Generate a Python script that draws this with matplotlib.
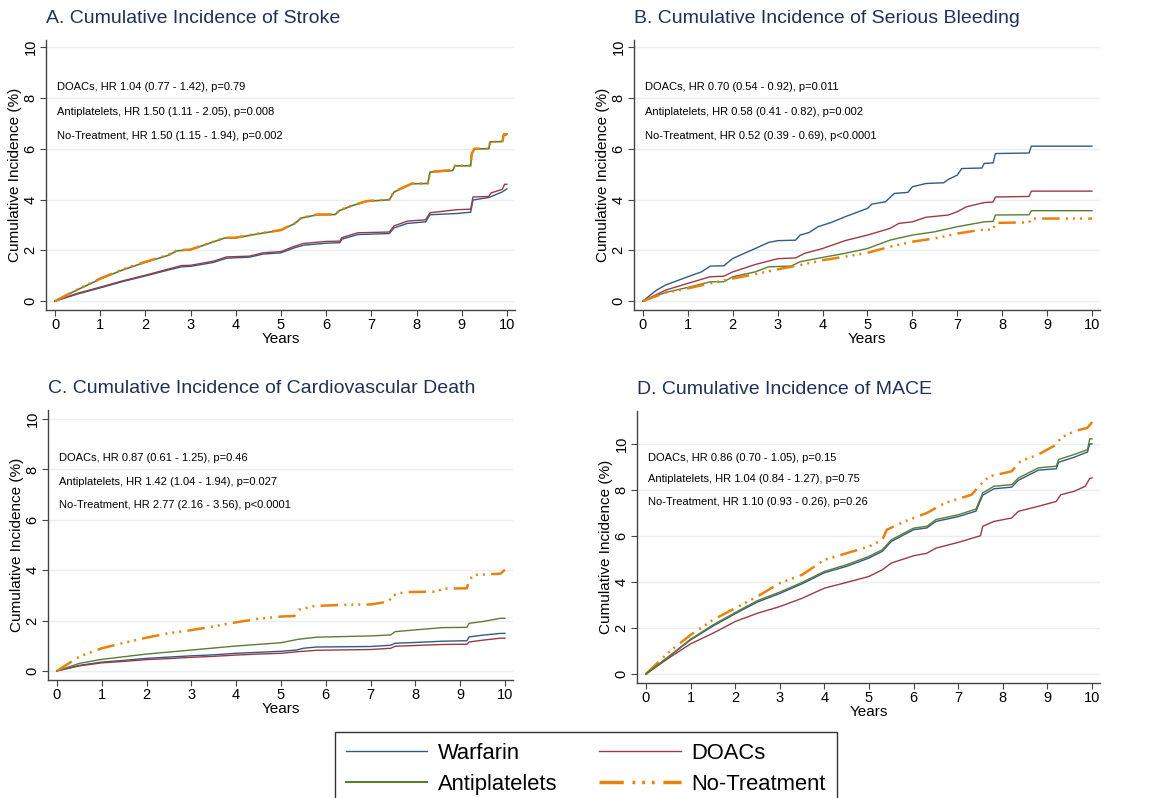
import matplotlib
matplotlib.use("Agg")
import matplotlib.pyplot as plt
from matplotlib.lines import Line2D

plt.rcParams['font.family'] = ['Liberation Sans', 'DejaVu Sans']

# colours (Stata s2color look)
c_warf = '#2f5b85'
c_doac = '#9b3a46'
c_anti = '#5a7d34'
c_none = '#e8820c'
c_title = '#1f3256'
c_grid = '#e6eff1'

# ---------------- A. Stroke ----------------
stroke_warf_t = [0, 0.5, 1, 1.5, 2, 2.5, 2.8, 3, 3.5, 3.8, 4.3, 4.6, 5, 5.3, 5.5, 6, 6.3, 6.35, 6.7, 7.4, 7.5, 7.8, 8.2, 8.3, 8.9, 9.2, 9.25, 9.6, 9.9, 10]
stroke_warf_y = [0, 0.28, 0.52, 0.77, 0.99, 1.22, 1.35, 1.37, 1.52, 1.69, 1.73, 1.85, 1.9, 2.1, 2.2, 2.28, 2.3, 2.44, 2.62, 2.66, 2.88, 3.06, 3.12, 3.4, 3.45, 3.5, 3.98, 4.08, 4.3, 4.42]
stroke_doac_t = [0, 0.5, 1, 1.5, 2, 2.5, 2.8, 3, 3.5, 3.8, 4.3, 4.6, 5, 5.3, 5.5, 6, 6.3, 6.35, 6.7, 7.4, 7.5, 7.8, 8.2, 8.3, 8.9, 9.2, 9.25, 9.6, 9.65, 9.9, 9.95, 10]
stroke_doac_y = [0, 0.31, 0.55, 0.8, 1.02, 1.26, 1.4, 1.41, 1.57, 1.74, 1.77, 1.9, 1.95, 2.16, 2.27, 2.35, 2.36, 2.5, 2.69, 2.72, 2.96, 3.15, 3.2, 3.48, 3.6, 3.62, 4.1, 4.12, 4.26, 4.4, 4.6, 4.6]
stroke_anti_t = [0, 0.5, 1, 1.5, 2, 2.5, 2.7, 3, 3.5, 3.75, 4, 4.5, 5, 5.3, 5.45, 5.8, 6.2, 6.3, 6.6, 6.9, 7.4, 7.5, 7.7, 7.9, 8.25, 8.3, 8.8, 8.85, 9.2, 9.22, 9.28, 9.6, 9.63, 9.9, 9.93, 10]
stroke_anti_y = [0, 0.45, 0.87, 1.23, 1.53, 1.8, 1.98, 2.02, 2.33, 2.48, 2.49, 2.65, 2.79, 3.05, 3.27, 3.4, 3.41, 3.57, 3.77, 3.93, 3.99, 4.29, 4.46, 4.62, 4.63, 5.08, 5.14, 5.32, 5.33, 5.79, 5.99, 6.0, 6.27, 6.28, 6.57, 6.58]
stroke_none_t = [0, 0.5, 1, 1.5, 2, 2.5, 2.7, 3, 3.5, 3.75, 4, 4.5, 5, 5.3, 5.45, 5.8, 6.2, 6.3, 6.6, 6.9, 7.4, 7.5, 7.7, 7.9, 8.25, 8.3, 8.8, 8.85, 9.2, 9.22, 9.28, 9.6, 9.63, 9.9, 9.93, 10]
stroke_none_y = [0, 0.46, 0.89, 1.25, 1.55, 1.81, 2.0, 2.03, 2.34, 2.49, 2.5, 2.66, 2.8, 3.06, 3.28, 3.41, 3.41, 3.58, 3.78, 3.94, 4.0, 4.3, 4.47, 4.63, 4.63, 5.09, 5.16, 5.33, 5.33, 5.8, 6.0, 6.0, 6.27, 6.27, 6.55, 6.55]

# ---------------- B. Serious bleeding ----------------
bleed_warf_t = [0, 0.3, 0.5, 1, 1.3, 1.5, 1.8, 2, 2.5, 2.8, 3, 3.4, 3.5, 3.7, 3.9, 4.2, 4.5, 5, 5.1, 5.4, 5.6, 5.9, 6.0, 6.3, 6.7, 6.8, 7.0, 7.1, 7.55, 7.6, 7.8, 7.85, 8.6, 8.65, 10]
bleed_warf_y = [0, 0.43, 0.63, 0.96, 1.15, 1.38, 1.39, 1.68, 2.07, 2.31, 2.38, 2.4, 2.6, 2.7, 2.93, 3.1, 3.32, 3.65, 3.82, 3.91, 4.24, 4.28, 4.5, 4.63, 4.66, 4.79, 4.96, 5.22, 5.24, 5.42, 5.44, 5.81, 5.83, 6.1, 6.1]
bleed_doac_t = [0, 0.5, 1, 1.5, 1.8, 2, 2.5, 3, 3.4, 3.6, 4, 4.5, 5, 5.5, 5.7, 6, 6.3, 6.8, 7.0, 7.2, 7.6, 7.8, 7.85, 8.6, 8.65, 10]
bleed_doac_y = [0, 0.43, 0.7, 0.96, 0.98, 1.15, 1.44, 1.67, 1.7, 1.88, 2.07, 2.38, 2.6, 2.86, 3.06, 3.12, 3.3, 3.39, 3.52, 3.71, 3.88, 3.9, 4.1, 4.12, 4.33, 4.33]
bleed_anti_t = [0, 0.5, 1, 1.5, 1.8, 2, 2.5, 2.8, 3.3, 3.5, 4, 4.5, 5, 5.5, 6, 6.5, 7, 7.6, 7.8, 7.85, 8.6, 8.65, 10]
bleed_anti_y = [0, 0.34, 0.54, 0.76, 0.76, 0.96, 1.15, 1.35, 1.38, 1.55, 1.72, 1.88, 2.07, 2.4, 2.6, 2.73, 2.93, 3.12, 3.14, 3.39, 3.4, 3.56, 3.56]
bleed_none_t = [0, 0.5, 1, 1.5, 2, 2.5, 3, 3.5, 4, 4.5, 5, 5.5, 6, 6.5, 7, 7.5, 7.8, 7.85, 8.6, 8.65, 10]
bleed_none_y = [0, 0.33, 0.5, 0.7, 0.89, 1.06, 1.25, 1.42, 1.61, 1.75, 1.9, 2.14, 2.34, 2.47, 2.66, 2.8, 2.82, 3.08, 3.1, 3.25, 3.25]

# ---------------- C. Cardiovascular death ----------------
cvd_warf_t = [0, 0.5, 1, 1.5, 2, 2.5, 3, 3.5, 4, 4.5, 5, 5.35, 5.5, 5.8, 7.0, 7.45, 7.55, 8, 8.6, 9.15, 9.2, 9.5, 9.9, 10]
cvd_warf_y = [0, 0.22, 0.35, 0.42, 0.5, 0.55, 0.6, 0.64, 0.7, 0.74, 0.78, 0.83, 0.9, 0.95, 0.97, 1.02, 1.1, 1.13, 1.18, 1.2, 1.35, 1.42, 1.49, 1.49]
cvd_doac_t = [0, 0.5, 1, 1.5, 2, 2.5, 3, 3.5, 4, 4.5, 5, 5.35, 5.8, 7.0, 7.45, 7.55, 8, 8.6, 9.15, 9.2, 9.5, 9.9, 10]
cvd_doac_y = [0, 0.2, 0.32, 0.38, 0.45, 0.49, 0.54, 0.58, 0.63, 0.67, 0.7, 0.76, 0.82, 0.85, 0.9, 0.98, 1.01, 1.05, 1.06, 1.15, 1.22, 1.3, 1.3]
cvd_anti_t = [0, 0.5, 1, 2, 3, 4, 5, 5.4, 5.8, 7.0, 7.45, 7.55, 8, 8.6, 9.15, 9.2, 9.5, 9.9, 10]
cvd_anti_y = [0, 0.3, 0.46, 0.67, 0.83, 0.99, 1.12, 1.26, 1.34, 1.39, 1.43, 1.56, 1.63, 1.72, 1.73, 1.89, 1.96, 2.09, 2.09]
cvd_none_t = [0, 0.5, 1, 1.5, 2, 2.5, 3, 3.5, 4, 4.5, 5, 5.3, 5.4, 5.75, 6.5, 7.0, 7.4, 7.5, 7.75, 8.5, 8.6, 9.15, 9.2, 9.3, 9.9, 10]
cvd_none_y = [0, 0.57, 0.9, 1.12, 1.32, 1.5, 1.62, 1.77, 1.93, 2.07, 2.16, 2.18, 2.43, 2.58, 2.63, 2.64, 2.75, 3.0, 3.13, 3.15, 3.27, 3.28, 3.6, 3.81, 3.86, 4.02]

# ---------------- D. MACE ----------------
mace_warf_t = [0, 0.5, 1, 1.5, 2, 2.5, 3, 3.5, 4, 4.5, 5, 5.3, 5.5, 6, 6.3, 6.5, 7, 7.4, 7.55, 7.8, 8.2, 8.35, 8.8, 9.2, 9.25, 9.6, 9.9, 9.95, 10]
mace_warf_y = [0, 0.73, 1.48, 2.08, 2.62, 3.13, 3.5, 3.92, 4.4, 4.68, 5.04, 5.33, 5.76, 6.27, 6.35, 6.63, 6.84, 7.08, 7.77, 8.05, 8.12, 8.42, 8.86, 8.92, 9.2, 9.42, 9.65, 10.0, 10.0]
mace_doac_t = [0, 0.5, 1, 1.5, 2, 2.5, 3, 3.5, 4, 4.5, 5, 5.3, 5.5, 6, 6.3, 6.5, 7, 7.5, 7.55, 7.8, 8.2, 8.35, 8.8, 9.2, 9.3, 9.6, 9.85, 9.95, 10]
mace_doac_y = [0, 0.68, 1.31, 1.77, 2.28, 2.64, 2.93, 3.29, 3.73, 3.98, 4.24, 4.53, 4.82, 5.14, 5.25, 5.47, 5.72, 6.01, 6.42, 6.63, 6.78, 7.07, 7.29, 7.5, 7.79, 7.94, 8.16, 8.5, 8.52]
mace_anti_t = [0, 0.5, 1, 1.5, 2, 2.5, 3, 3.5, 4, 4.5, 5, 5.3, 5.5, 6, 6.3, 6.5, 7, 7.4, 7.55, 7.8, 8.2, 8.35, 8.8, 9.2, 9.25, 9.6, 9.9, 9.95, 10]
mace_anti_y = [0, 0.75, 1.51, 2.13, 2.67, 3.19, 3.56, 3.98, 4.46, 4.75, 5.11, 5.4, 5.83, 6.34, 6.42, 6.71, 6.92, 7.17, 7.87, 8.16, 8.23, 8.52, 8.96, 9.03, 9.32, 9.54, 9.75, 10.22, 10.22]
mace_none_t = [0, 0.5, 1, 1.5, 2, 2.5, 3, 3.5, 4, 4.5, 5, 5.3, 5.4, 5.8, 6.3, 6.7, 7.3, 7.5, 7.7, 8.2, 8.4, 8.8, 9.2, 9.3, 9.6, 9.9, 10.05]
mace_none_y = [0, 0.93, 1.7, 2.35, 2.86, 3.37, 3.95, 4.31, 4.96, 5.25, 5.54, 5.83, 6.27, 6.63, 7.0, 7.43, 7.79, 8.23, 8.59, 8.81, 9.25, 9.54, 9.97, 10.26, 10.55, 10.7, 11.06]

# HR text per panel
stroke_hr = ["DOACs, HR 1.04 (0.77 - 1.42), p=0.79",
             "Antiplatelets, HR 1.50 (1.11 - 2.05), p=0.008",
             "No-Treatment, HR 1.50 (1.15 - 1.94), p=0.002"]
bleed_hr = ["DOACs, HR 0.70 (0.54 - 0.92), p=0.011",
            "Antiplatelets, HR 0.58 (0.41 - 0.82), p=0.002",
            "No-Treatment, HR 0.52 (0.39 - 0.69), p<0.0001"]
cvd_hr = ["DOACs, HR 0.87 (0.61 - 1.25), p=0.46",
          "Antiplatelets, HR 1.42 (1.04 - 1.94), p=0.027",
          "No-Treatment, HR 2.77 (2.16 - 3.56), p<0.0001"]
mace_hr = ["DOACs, HR 0.86 (0.70 - 1.05), p=0.15",
           "Antiplatelets, HR 1.04 (0.84 - 1.27), p=0.75",
           "No-Treatment, HR 1.10 (0.93 - 0.26), p=0.26"]

W, H = 1163, 798
fig = plt.figure(figsize=(W / 100, H / 100), dpi=100)
fig.patch.set_facecolor('white')

# long dash + three dots
none_dash = (0, (7, 2.5, 0.8, 2, 0.8, 2, 0.8, 2.5))


def px_axes(left, right, top, bottom):
    return fig.add_axes([left / W, 1 - bottom / H, (right - left) / W, (bottom - top) / H])


def draw_panel(ax, title, series, hr_lines, ylim, hr_y):
    for t, y, col, lw, ls in series:
        ax.plot(t, y, color=col, lw=lw, linestyle=ls)
    ax.set_xlim(-0.2, 10.18)
    ax.set_ylim(*ylim)
    ax.set_xticks(range(0, 11))
    ax.set_yticks([0, 2, 4, 6, 8, 10])
    ax.grid(axis='y', color=c_grid, lw=1)
    ax.set_axisbelow(True)
    for s in ['top', 'right']:
        ax.spines[s].set_visible(False)
    for s in ['left', 'bottom']:
        ax.spines[s].set_color('#444444')
        ax.spines[s].set_linewidth(1)
    ax.tick_params(axis='both', colors='#444444', labelcolor='black', labelsize=10.5, length=4, pad=2)
    plt.setp(ax.get_yticklabels(), rotation=90, va='center')
    ax.set_xlabel("Years", fontsize=11, labelpad=0)
    ax.set_ylabel("Cumulative Incidence (%)", fontsize=11, labelpad=1)
    ax.set_title(title, loc='left', fontsize=14, color=c_title, pad=12, x=0.0)
    for txt, yy in zip(hr_lines, hr_y):
        ax.text(0.05, yy, txt, fontsize=8, va='center', ha='left')


# A
axA = px_axes(46, 515, 40, 310)
draw_panel(axA, "A. Cumulative Incidence of Stroke",
           [(stroke_warf_t, stroke_warf_y, c_warf, 1, '-'),
            (stroke_doac_t, stroke_doac_y, c_doac, 1, '-'),
            (stroke_anti_t, stroke_anti_y, c_anti, 1.2, '-'),
            (stroke_none_t, stroke_none_y, c_none, 1.8, none_dash)],
           stroke_hr, (-0.35, 10.28), [8.43, 7.44, 6.5])

# B
axB = px_axes(634, 1100, 40, 310)
draw_panel(axB, "B. Cumulative Incidence of Serious Bleeding",
           [(bleed_warf_t, bleed_warf_y, c_warf, 1, '-'),
            (bleed_doac_t, bleed_doac_y, c_doac, 1, '-'),
            (bleed_anti_t, bleed_anti_y, c_anti, 1, '-'),
            (bleed_none_t, bleed_none_y, c_none, 1.8, none_dash)],
           bleed_hr, (-0.35, 10.28), [8.43, 7.44, 6.5])

# C
axC = px_axes(48, 513, 410, 680)
draw_panel(axC, "C. Cumulative Incidence of Cardiovascular Death",
           [(cvd_warf_t, cvd_warf_y, c_warf, 1, '-'),
            (cvd_doac_t, cvd_doac_y, c_doac, 1, '-'),
            (cvd_anti_t, cvd_anti_y, c_anti, 1, '-'),
            (cvd_none_t, cvd_none_y, c_none, 1.8, none_dash)],
           cvd_hr, (-0.36, 10.36), [8.45, 7.5, 6.6])

# D
axD = px_axes(637, 1100, 411, 683)
draw_panel(axD, "D. Cumulative Incidence of MACE",
           [(mace_none_t, mace_none_y, c_none, 1.8, none_dash),
            (mace_doac_t, mace_doac_y, c_doac, 1, '-'),
            (mace_warf_t, mace_warf_y, c_warf, 1, '-'),
            (mace_anti_t, mace_anti_y, c_anti, 1, '-')],
           mace_hr, (-0.39, 11.43), [9.4, 8.48, 7.48])

# legend at bottom
handles = [Line2D([], [], color=c_warf, lw=1),
           Line2D([], [], color=c_anti, lw=1.5),
           Line2D([], [], color=c_doac, lw=1),
           Line2D([], [], color=c_none, lw=2.5, linestyle=none_dash)]
labels = ["Warfarin", "Antiplatelets", "DOACs", "No-Treatment"]
leg = fig.legend(handles, labels, ncol=2, loc='upper left',
                 bbox_to_anchor=(335 / W, 1 - 732 / H), fontsize=15.8,
                 frameon=True, fancybox=False, edgecolor='black',
                 handlelength=3.7, handletextpad=0.5, columnspacing=1.9,
                 borderpad=0.5, labelspacing=0.45, borderaxespad=0)
leg.get_frame().set_linewidth(1)

fig.savefig("out.png", dpi=100)
